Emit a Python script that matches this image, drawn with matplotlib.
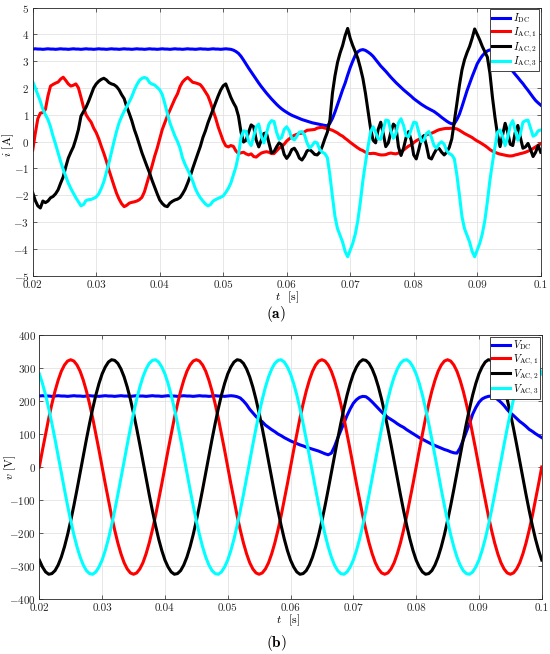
"""DC link and AC phase currents / voltages of a rectifier, two stacked panels."""

import matplotlib
matplotlib.use("Agg")
import matplotlib.pyplot as plt
import numpy as np

plt.rcParams["font.family"] = "serif"
plt.rcParams["font.serif"] = ["cmr10", "DejaVu Serif"]
plt.rcParams["mathtext.fontset"] = "cm"
plt.rcParams["axes.formatter.use_mathtext"] = True

# ---------------------------------------------------------------------------
# Data
# ---------------------------------------------------------------------------
# currents sampled every 0.4 ms, voltages every 0.5 ms, 0.02 s ... 0.1 s
t_i = np.linspace(0.02, 0.1, 201)
t_v = np.linspace(0.02, 0.1, 161)

i_dc = [
    3.45, 3.46, 3.45, 3.45, 3.44, 3.45, 3.46, 3.45, 3.45, 3.44,
    3.45, 3.46, 3.45, 3.45, 3.44, 3.45, 3.46, 3.45, 3.45, 3.44,
    3.45, 3.46, 3.45, 3.45, 3.44, 3.45, 3.46, 3.45, 3.45, 3.44,
    3.45, 3.46, 3.45, 3.45, 3.44, 3.45, 3.46, 3.45, 3.45, 3.44,
    3.45, 3.46, 3.45, 3.45, 3.44, 3.45, 3.46, 3.45, 3.45, 3.44,
    3.45, 3.46, 3.45, 3.45, 3.44, 3.45, 3.46, 3.45, 3.45, 3.44,
    3.45, 3.46, 3.45, 3.45, 3.44, 3.45, 3.46, 3.45, 3.45, 3.44,
    3.45, 3.46, 3.45, 3.45, 3.44, 3.45, 3.46, 3.45, 3.44, 3.41,
    3.36, 3.29, 3.18, 3.04, 2.89, 2.74, 2.60, 2.46, 2.32, 2.18,
    2.05, 1.93, 1.81, 1.70, 1.59, 1.49, 1.39, 1.30, 1.22, 1.15,
    1.09, 1.03, 0.98, 0.94, 0.90, 0.86, 0.82, 0.79, 0.76, 0.73,
    0.70, 0.68, 0.66, 0.64, 0.62, 0.60, 0.59, 0.68, 0.86, 1.10,
    1.37, 1.65, 1.93, 2.18, 2.48, 2.76, 3.00, 3.22, 3.35, 3.41,
    3.43, 3.40, 3.34, 3.27, 3.18, 3.06, 2.94, 2.82, 2.72, 2.62,
    2.51, 2.40, 2.30, 2.20, 2.11, 2.02, 1.93, 1.85, 1.77, 1.69,
    1.60, 1.53, 1.46, 1.39, 1.33, 1.27, 1.22, 1.17, 1.12, 1.05,
    0.98, 0.90, 0.83, 0.76, 0.70, 0.66, 0.67, 0.82, 1.02, 1.30,
    1.60, 1.90, 2.16, 2.42, 2.66, 2.90, 3.06, 3.20, 3.30, 3.38,
    3.42, 3.39, 3.34, 3.28, 3.18, 3.06, 2.94, 2.82, 2.72, 2.62,
    2.50, 2.39, 2.27, 2.16, 2.03, 1.91, 1.78, 1.65, 1.53, 1.44,
    1.36,
]

i_ac1 = [
    -0.32, 0.30, 0.85, 1.06, 1.08, 1.20, 1.70, 2.07, 2.13, 2.18,
    2.22, 2.33, 2.40, 2.28, 2.15, 2.07, 2.10, 2.15, 2.00, 1.65,
    1.28, 1.00, 0.85, 0.72, 0.50, 0.33, 0.10, -0.18, -0.44, -0.73,
    -1.06, -1.36, -1.65, -1.93, -2.15, -2.32, -2.43, -2.38, -2.30, -2.27,
    -2.25, -2.22, -2.17, -2.08, -1.87, -1.55, -1.22, -0.90, -0.55, -0.25,
    0.10, 0.45, 0.70, 0.95, 1.17, 1.38, 1.60, 1.78, 2.05, 2.22,
    2.32, 2.39, 2.30, 2.21, 2.19, 2.16, 2.12, 2.00, 1.85, 1.70,
    1.45, 1.15, 0.88, 0.55, 0.28, 0.02, -0.16, -0.20, -0.15, -0.18,
    -0.35, -0.45, -0.42, -0.40, -0.46, -0.50, -0.46, -0.56, -0.58, -0.50,
    -0.43, -0.40, -0.38, -0.40, -0.45, -0.45, -0.35, -0.25, -0.19, -0.10,
    0.02, 0.10, 0.18, 0.23, 0.27, 0.30, 0.31, 0.36, 0.42, 0.43,
    0.44, 0.45, 0.50, 0.52, 0.53, 0.50, 0.49, 0.45, 0.42, 0.37,
    0.32, 0.25, 0.20, 0.12, 0.05, -0.03, -0.10, -0.17, -0.24, -0.30,
    -0.34, -0.40, -0.44, -0.45, -0.44, -0.45, -0.48, -0.50, -0.50, -0.49,
    -0.45, -0.43, -0.45, -0.46, -0.43, -0.38, -0.32, -0.24, -0.17, -0.12,
    -0.04, 0.03, 0.08, 0.14, 0.20, 0.25, 0.28, 0.31, 0.35, 0.40,
    0.44, 0.46, 0.48, 0.49, 0.49, 0.50, 0.49, 0.47, 0.42, 0.36,
    0.30, 0.25, 0.20, 0.15, 0.08, 0.02, -0.03, -0.09, -0.15, -0.22,
    -0.30, -0.36, -0.40, -0.44, -0.47, -0.49, -0.51, -0.53, -0.54, -0.53,
    -0.50, -0.48, -0.45, -0.43, -0.40, -0.36, -0.32, -0.26, -0.20, -0.14,
    -0.08,
]

i_ac2 = [
    -1.91, -2.20, -2.40, -2.48, -2.22, -2.28, -2.22, -2.10, -2.05, -1.95,
    -1.80, -1.55, -1.32, -0.95, -0.62, -0.40, -0.20, 0.10, 0.45, 0.95,
    1.12, 1.28, 1.50, 1.75, 2.00, 2.15, 2.25, 2.32, 2.36, 2.30,
    2.20, 2.15, 2.12, 2.05, 1.93, 1.75, 1.60, 1.30, 1.05, 0.78,
    0.45, 0.18, -0.12, -0.42, -0.68, -0.93, -1.17, -1.45, -1.70, -1.95,
    -2.18, -2.31, -2.40, -2.43, -2.30, -2.23, -2.18, -2.15, -2.09, -1.95,
    -1.78, -1.55, -1.30, -1.00, -0.72, -0.45, -0.18, 0.15, 0.40, 0.70,
    0.95, 1.20, 1.45, 1.70, 1.92, 2.08, 2.15, 1.90, 1.65, 1.45,
    1.28, 0.95, 0.35, -0.02, 0.05, 0.35, 0.62, 0.55, 0.05, -0.20,
    0.05, 0.30, 0.32, -0.05, -0.42, -0.38, -0.20, -0.05, -0.12, -0.48,
    -0.63, -0.50, -0.30, -0.25, -0.40, -0.62, -0.69, -0.55, -0.35, -0.30,
    -0.38, -0.48, -0.50, -0.40, -0.18, 0.10, 0.35, 0.80, 1.80, 2.45,
    2.95, 3.30, 3.58, 3.95, 4.22, 3.85, 3.58, 3.35, 3.10, 2.75,
    2.35, 1.80, 1.15, 0.50, 0.05, -0.05, 0.45, 0.72, 0.30, -0.19,
    -0.05, 0.35, 0.65, 0.55, -0.20, -0.52, -0.25, 0.15, 0.37, 0.05,
    -0.50, -0.65, -0.30, 0.10, 0.22, -0.15, -0.60, -0.65, -0.45, -0.28,
    -0.26, -0.40, -0.50, -0.40, -0.22, 0.10, 0.75, 1.42, 2.10, 2.67,
    3.05, 3.32, 3.55, 3.85, 4.20, 4.00, 3.79, 3.55, 3.35, 3.15,
    2.55, 1.65, 0.90, 0.25, -0.19, 0.25, 0.68, 0.35, -0.10, -0.15,
    0.35, 0.60, 0.15, -0.25, -0.20, -0.07, -0.30, -0.56, -0.40, -0.15,
    -0.40,
]

i_ac3 = [
    2.23, 2.00, 1.75, 1.50, 1.20, 1.00, 0.82, 0.55, 0.20, -0.10,
    -0.42, -0.75, -1.04, -1.30, -1.55, -1.75, -1.93, -2.10, -2.25, -2.40,
    -2.35, -2.20, -2.17, -2.16, -2.12, -2.07, -1.95, -1.75, -1.50, -1.15,
    -0.80, -0.40, 0.00, 0.38, 0.70, 0.93, 1.13, 1.30, 1.48, 1.67,
    1.92, 2.12, 2.28, 2.36, 2.39, 2.35, 2.20, 2.14, 2.11, 2.02,
    1.93, 1.75, 1.42, 1.05, 0.70, 0.45, 0.20, 0.00, -0.25, -0.62,
    -0.86, -1.05, -1.25, -1.48, -1.75, -1.95, -2.10, -2.22, -2.33, -2.40,
    -2.35, -2.22, -2.17, -2.12, -2.08, -2.03, -1.90, -1.75, -1.55, -1.25,
    -0.95, -0.50, 0.15, 0.40, 0.38, 0.00, -0.15, 0.20, 0.55, 0.65,
    0.20, -0.05, 0.30, 0.65, 0.78, 0.75, 0.35, 0.08, 0.15, 0.45,
    0.55, 0.40, 0.12, 0.06, 0.20, 0.35, 0.37, 0.25, -0.05, -0.25,
    -0.15, -0.02, -0.05, -0.30, -0.40, -0.45, -0.60, -1.25, -2.05, -2.80,
    -3.25, -3.50, -3.75, -4.10, -4.30, -4.05, -3.80, -3.45, -2.95, -2.25,
    -1.45, -0.80, -0.20, 0.35, 0.55, 0.35, 0.10, 0.08, 0.45, 0.80,
    0.78, 0.40, 0.12, 0.30, 0.70, 0.85, 0.60, 0.22, 0.18, 0.45,
    0.72, 0.70, 0.35, 0.00, 0.05, 0.30, 0.37, 0.15, -0.15, -0.25,
    -0.08, -0.01, -0.10, -0.35, -0.45, -0.50, -0.65, -1.25, -2.00, -2.80,
    -3.25, -3.50, -3.75, -4.10, -4.30, -4.05, -3.80, -3.45, -2.95, -2.25,
    -1.45, -0.80, -0.20, 0.35, 0.43, 0.20, -0.15, 0.15, 0.60, 0.78,
    0.40, 0.05, 0.30, 0.72, 0.78, 0.80, 0.50, 0.20, 0.25, 0.40,
    0.43,
]

v_dc = [
    215, 216, 215, 215, 214, 215, 216, 215, 215, 214,
    215, 216, 215, 215, 214, 215, 216, 215, 215, 214,
    215, 216, 215, 215, 214, 215, 216, 215, 215, 214,
    215, 216, 215, 215, 214, 215, 216, 215, 215, 214,
    215, 216, 215, 215, 214, 215, 216, 215, 215, 214,
    215, 216, 215, 215, 214, 215, 216, 215, 215, 214,
    215, 216, 215, 213, 209, 200, 189, 175, 164, 153,
    144, 137, 127, 120, 113, 107, 100, 95, 89, 84,
    79, 75, 71, 67, 64, 60, 57, 54, 51, 48,
    44, 40, 37, 42, 62, 87, 110, 133, 156, 176,
    193, 204, 211, 214, 213, 206, 197, 187, 177, 167,
    158, 150, 144, 138, 131, 125, 120, 113, 107, 101,
    95, 89, 84, 79, 74, 69, 65, 61, 57, 53,
    50, 46, 43, 42, 58, 82, 107, 132, 160, 180,
    196, 206, 211, 214, 215, 212, 204, 196, 186, 174,
    164, 156, 147, 138, 131, 123, 114, 108, 101, 95,
    89,
]

v_ac1 = [
    0, 51, 100, 148, 191, 230, 263, 290, 309, 321, 325, 321, 309, 290, 263, 230, 191, 148, 100, 51,
    0, -51, -100, -148, -191, -230, -263, -290, -309, -321, -325, -321, -309, -290, -263, -230, -191, -148, -100, -51,
    0, 51, 100, 148, 191, 230, 263, 290, 309, 321, 325, 321, 309, 290, 263, 230, 191, 148, 100, 51,
    0, -51, -100, -148, -191, -230, -263, -290, -309, -321, -325, -321, -309, -290, -263, -230, -191, -148, -100, -51,
    0, 51, 100, 148, 191, 230, 263, 290, 309, 321, 325, 321, 309, 290, 263, 230, 191, 148, 100, 51,
    0, -51, -100, -148, -191, -230, -263, -290, -309, -321, -325, -321, -309, -290, -263, -230, -191, -148, -100, -51,
    0, 51, 100, 148, 191, 230, 263, 290, 309, 321, 325, 321, 309, 290, 263, 230, 191, 148, 100, 51,
    0, -51, -100, -148, -191, -230, -263, -290, -309, -321, -325, -321, -309, -290, -263, -230, -191, -148, -100, -51,
    0,
]

v_ac2 = [
    -282, -303, -318, -325, -323, -314, -297, -273, -242, -205, -163, -117, -68, -17, 34, 84, 132, 177, 218, 253,
    282, 303, 318, 325, 323, 314, 297, 273, 242, 205, 163, 117, 68, 17, -34, -84, -132, -177, -218, -253,
    -282, -303, -318, -325, -323, -314, -297, -273, -242, -205, -163, -117, -68, -17, 34, 84, 132, 177, 218, 253,
    282, 303, 318, 325, 323, 314, 297, 273, 242, 205, 163, 117, 68, 17, -34, -84, -132, -177, -218, -253,
    -282, -303, -318, -325, -323, -314, -297, -273, -242, -205, -163, -117, -68, -17, 34, 84, 132, 177, 218, 253,
    282, 303, 318, 325, 323, 314, 297, 273, 242, 205, 163, 117, 68, 17, -34, -84, -132, -177, -218, -253,
    -282, -303, -318, -325, -323, -314, -297, -273, -242, -205, -163, -117, -68, -17, 34, 84, 132, 177, 218, 253,
    282, 303, 318, 325, 323, 314, 297, 273, 242, 205, 163, 117, 68, 17, -34, -84, -132, -177, -218, -253,
    -282,
]

v_ac3 = [
    282, 253, 218, 177, 132, 84, 34, -17, -68, -117, -163, -205, -242, -273, -297, -314, -323, -325, -318, -303,
    -282, -253, -218, -177, -132, -84, -34, 17, 68, 117, 163, 205, 242, 273, 297, 314, 323, 325, 318, 303,
    282, 253, 218, 177, 132, 84, 34, -17, -68, -117, -163, -205, -242, -273, -297, -314, -323, -325, -318, -303,
    -282, -253, -218, -177, -132, -84, -34, 17, 68, 117, 163, 205, 242, 273, 297, 314, 323, 325, 318, 303,
    282, 253, 218, 177, 132, 84, 34, -17, -68, -117, -163, -205, -242, -273, -297, -314, -323, -325, -318, -303,
    -282, -253, -218, -177, -132, -84, -34, 17, 68, 117, 163, 205, 242, 273, 297, 314, 323, 325, 318, 303,
    282, 253, 218, 177, 132, 84, 34, -17, -68, -117, -163, -205, -242, -273, -297, -314, -323, -325, -318, -303,
    -282, -253, -218, -177, -132, -84, -34, 17, 68, 117, 163, 205, 242, 273, 297, 314, 323, 325, 318, 303,
    282,
]

for name, arr, ref in [("i_dc", i_dc, t_i), ("i_ac1", i_ac1, t_i), ("i_ac2", i_ac2, t_i),
                       ("i_ac3", i_ac3, t_i), ("v_dc", v_dc, t_v), ("v_ac1", v_ac1, t_v),
                       ("v_ac2", v_ac2, t_v), ("v_ac3", v_ac3, t_v)]:
    assert len(arr) == len(ref), (name, len(arr), len(ref))

COLORS = ["#0000ff", "#ff0000", "#000000", "#00ffff"]
LW = 2.2

# ---------------------------------------------------------------------------
# Plot
# ---------------------------------------------------------------------------
fig = plt.figure(figsize=(5.5, 6.54), dpi=100)
ax1 = fig.add_axes([0.0595, 0.5787, 0.9236, 0.4098])
ax2 = fig.add_axes([0.0715, 0.0841, 0.9135, 0.4037])

panels = [
    (ax1, t_i, [i_dc, i_ac1, i_ac2, i_ac3],
     [r"$I_\mathrm{DC}$", r"$I_\mathrm{AC,1}$", r"$I_\mathrm{AC,2}$", r"$I_\mathrm{AC,3}$"],
     (-5, 5), np.arange(-5, 6, 1)),
    (ax2, t_v, [v_dc, v_ac1, v_ac2, v_ac3],
     [r"$V_\mathrm{DC}$", r"$V_\mathrm{AC,1}$", r"$V_\mathrm{AC,2}$", r"$V_\mathrm{AC,3}$"],
     (-400, 400), np.arange(-400, 401, 100)),
]

for ax, t, series, labels, ylim, yticks in panels:
    for y, lab, c in zip(series, labels, COLORS):
        ax.plot(t, y, color=c, lw=LW, label=lab, solid_joinstyle="round")
    ax.set_xlim(0.02, 0.1)
    ax.set_ylim(*ylim)
    ax.set_xticks(np.arange(0.02, 0.1001, 0.01))
    ax.set_xticklabels(["0.02", "0.03", "0.04", "0.05", "0.06", "0.07", "0.08", "0.09", "0.1"])
    ax.set_yticks(yticks)
    ax.grid(True, color="#e3e3e3", lw=0.6)
    ax.set_axisbelow(True)
    ax.tick_params(direction="in", top=True, right=True, length=3, width=0.5,
                   labelsize=8, colors="#262626")
    ax.tick_params(axis="x", pad=3.5)
    ax.tick_params(axis="y", pad=2.5)
    for s in ax.spines.values():
        s.set_linewidth(0.6)
        s.set_color("#262626")
    leg = ax.legend(loc="upper right", fontsize=7.5, fancybox=False, framealpha=1,
                    edgecolor="#262626", borderpad=0.2, labelspacing=0.05,
                    handlelength=1.7, handletextpad=0.3, borderaxespad=0.15)
    leg.get_frame().set_linewidth(0.6)

fig.text(0.522, 0.546, r"$t$  [s]", fontsize=8.5, ha="center", va="center")
fig.text(0.524, 0.052, r"$t$  [s]", fontsize=8.5, ha="center", va="center")
fig.text(0.015, 0.778, r"$i$ [A]", fontsize=8.5, rotation=90, ha="center", va="center")
fig.text(0.018, 0.286, r"$v$ [V]", fontsize=8.5, rotation=90, ha="center", va="center")
fig.text(0.502, 0.520, r"($\mathbf{a}$)", fontsize=11, ha="center", va="center")
fig.text(0.502, 0.017, r"($\mathbf{b}$)", fontsize=11, ha="center", va="center")

fig.savefig("out.png", dpi=100)
